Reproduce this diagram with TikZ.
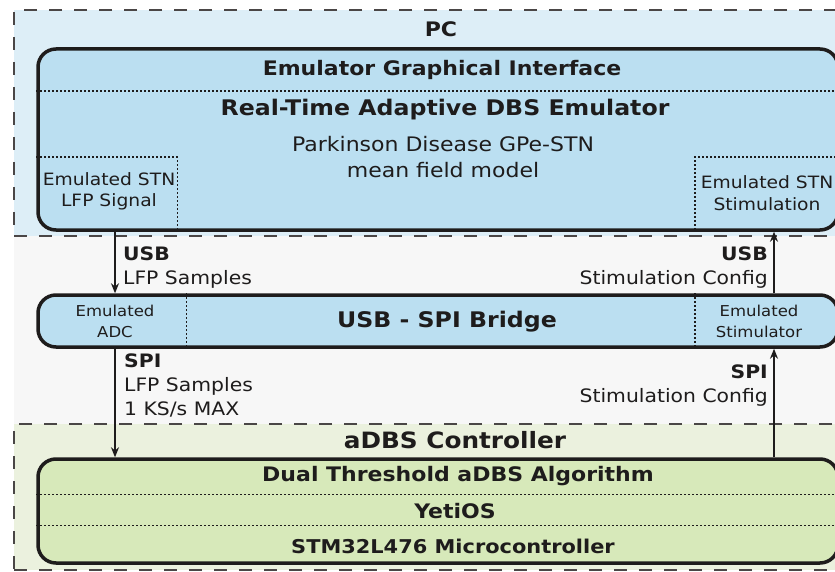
\documentclass[tikz,border=0pt]{standalone}
\usepackage{fontspec}
\setmainfont{DejaVu Sans}[FakeStretch=1.1]
\usepackage{xcolor}
\usepackage{tikz}
\usetikzlibrary{arrows.meta}

\definecolor{ink}{HTML}{1E1C1C}
\definecolor{dashgray}{HTML}{4A4646}
\definecolor{pcback}{HTML}{DDEEF7}
\definecolor{emufill}{HTML}{BBDFF1}
\definecolor{midback}{HTML}{F7F7F7}
\definecolor{ctrlback}{HTML}{EBF1DE}
\definecolor{ctrlfill}{HTML}{D7E9BA}

\begin{document}
\begin{tikzpicture}[x=1pt,y=-1pt]
			\tikzstyle{region} = [draw=dashgray, dash pattern=on 13pt off 12pt, line width=1.2pt, inner sep=0pt]
			\tikzstyle{block} = [draw=ink, line width=3.5pt, rounded corners=18pt, inner sep=0pt]
			\tikzstyle{sep} = [draw=ink, line width=1.5pt, dash pattern=on 1.5pt off 2.5pt]
			\tikzstyle{head} = [text=ink, inner sep=0pt, font=\bfseries\fontsize{20}{24}\selectfont]
			\tikzstyle{note} = [text=ink, inner sep=0pt, text height=13pt, text depth=4pt, font=\fontsize{18.5}{24}\selectfont]
			\tikzstyle{small} = [text=ink, inner sep=0pt, align=center, font=\fontsize{17}{21.5}\selectfont]
			\tikzset{link/.style = {draw=ink, line width=1.2pt, -{Stealth[length=10pt,width=8pt]}}}

			\useasboundingbox (0,0) rectangle (835,572);

			\node[fill=midback, minimum width=836, minimum height=188] (mid) at (432,330) {};
			\node[region, fill=pcback, minimum width=836, minimum height=226] (pc) at (432,123) {};
			\node[region, fill=ctrlback, minimum width=836, minimum height=146] (ctrl) at (432,497) {};
			\node[head] (pclbl) at (441,29) {PC};
			\node[head, font=\bfseries\fontsize{22.5}{26}\selectfont] (ctrllbl) at (455,440) {aDBS Controller};

			\node[block, fill=emufill, minimum width=800, minimum height=181] (emu) at (438,139.5) {};
			\draw[sep] ([yshift=-44pt]emu.north west) -- ([yshift=-44pt]emu.north east);
			\draw[sep] ([yshift=-110pt]emu.north west) -| ([xshift=141pt]emu.south west);
			\draw[sep] ([yshift=-110pt]emu.north east) -| ([xshift=-145pt]emu.south east);
			\node[head] (gui) at (442,70) {Emulator Graphical Interface};
			\node[head, font=\bfseries\fontsize{21.5}{26}\selectfont] (core) at (445,110) {Real-Time Adaptive DBS Emulator};
			\node[small, font=\fontsize{20}{26}\selectfont] (model) at (443,157) {Parkinson Disease GPe-STN\\mean field model};
			\node[small] (lfpsig) at (109,191.5) {Emulated STN\\LFP Signal};
			\node[small] (stimsig) at (767,193) {Emulated STN\\Stimulation};

			\node[block, fill=emufill, minimum width=800, minimum height=52] (bridge) at (438,321) {};
			\draw[sep] ([xshift=150pt]bridge.north west) -- ([xshift=150pt]bridge.south west);
			\draw[sep] ([xshift=-145pt]bridge.north east) -- ([xshift=-145pt]bridge.south east);
			\node[head, font=\bfseries\fontsize{21.5}{26}\selectfont] (bridgelbl) at (447,322) {USB - SPI Bridge};
			\node[small, font=\fontsize{15}{21}\selectfont] (adc) at (115,321.5) {Emulated\\ADC};
			\node[small, font=\fontsize{15}{21}\selectfont] (stimulator) at (759,321.5) {Emulated\\Stimulator};

			\node[block, fill=ctrlfill, minimum width=800, minimum height=104] (mcu) at (438,511) {};
			\draw[sep] ([yshift=-37pt]mcu.north west) -- ([yshift=-37pt]mcu.north east);
			\draw[sep] ([yshift=-68pt]mcu.north west) -- ([yshift=-68pt]mcu.north east);
			\node[head] (algo) at (458,476) {Dual Threshold aDBS Algorithm};
			\node[head] (os) at (455,511) {YetiOS};
			\node[head, font=\bfseries\fontsize{19}{24}\selectfont] (chip) at (453,546) {STM32L476 Microcontroller};

			\coordinate (down) at (115,0);
			\coordinate (up) at (774,0);
			\draw[link] (emu.south -| down) -- (bridge.north -| down);
			\draw[link] (bridge.north -| up) -- (emu.south -| up);
			\draw[link] (bridge.south -| down) -- (mcu.north -| down);
			\draw[link] (mcu.north -| up) -- (bridge.south -| up);

			\node[note, anchor=west] (usbin) at (123,256) {\bfseries USB};
			\node[note, anchor=west] (usbdata) at (123,280) {LFP Samples};
			\node[note, anchor=east] (usbout) at (768,256) {\bfseries USB};
			\node[note, anchor=east] (usbcfg) at (768,280) {Stimulation Config};
			\node[note, anchor=west] (spiin) at (124,363) {\bfseries SPI};
			\node[note, anchor=west] (spidata) at (124,387) {LFP Samples};
			\node[note, anchor=west] (spirate) at (124,411) {1 KS/s MAX};
			\node[note, anchor=east] (spiout) at (768,374) {\bfseries SPI};
			\node[note, anchor=east] (spicfg) at (768,398) {Stimulation Config};

			\end{tikzpicture}
\end{document}
